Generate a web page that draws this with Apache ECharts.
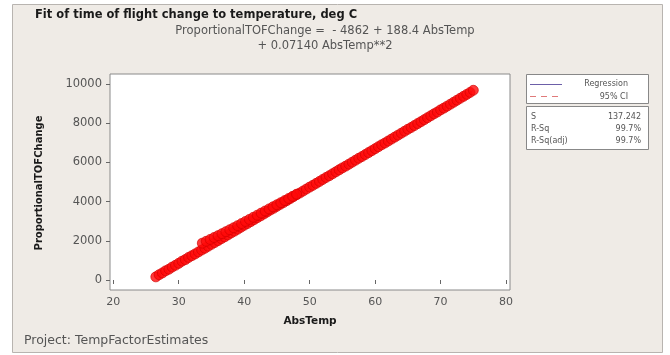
<!DOCTYPE html>
<html><head><meta charset="utf-8">
<script src="https://cdn.jsdelivr.net/npm/echarts@6/dist/echarts.min.js"></script>
<style>html,body{margin:0;padding:0;background:#fff}#c{width:670px;height:355px}</style>
</head><body><div id="c"></div>
<script>
const absTemp = [26.5,27,27.5,28,28.5,29,29.5,30,30.5,31,31.5,32,32.5,33,33.5,34,34.5,35,35.5,36,36.5,37,37.5,38,38.5,39,39.5,40,40.5,41,41.5,42,42.5,43,43.5,44,44.5,45,45.5,46,46.5,47,47.5,48,48.5,49,49.5,50,50.5,51,51.5,52,52.5,53,53.5,54,54.5,55,55.5,56,56.5,57,57.5,58,58.5,59,59.5,60,60.5,61,61.5,62,62.5,63,63.5,64,64.5,65,65.5,66,66.5,67,67.5,68,68.5,69,69.5,70,70.5,71,71.5,72,72.5,73,73.5,74,74.5,75];
const tofChange = [160,270,360,470,550,660,750,850,960,1040,1150,1240,1330,1430,1530,1620,1720,1820,1910,2010,2110,2200,2300,2400,2490,2590,2690,2790,2880,2980,3080,3180,3270,3370,3470,3570,3660,3760,3860,3950,4050,4150,4250,4350,4440,4540,4640,4740,4830,4930,5030,5130,5230,5320,5420,5520,5620,5720,5810,5910,6010,6110,6210,6300,6400,6500,6600,6700,6800,6900,6990,7090,7190,7290,7390,7490,7590,7690,7780,7880,7980,8080,8180,8280,8380,8480,8570,8680,8770,8870,8970,9070,9170,9270,9370,9470,9570,9680];
// second, slightly higher run of points starting near 33.6
const absTemp2 = [33.6,34.2,34.8,35.4,36,36.6,37.2,37.8,38.4,39,39.6,40.2,40.8,41.4,42,42.6,43.2,43.8,44.4,45,45.6,46.2,46.8,47.4,48];
const tofChange2 = [1880,1975,2070,2167,2263,2364,2466,2567,2668,2774,2880,2987,3093,3200,3307,3413,3520,3627,3734,3841,3947,4054,4161,4269,4376];
// fitted regression line: -4862 + 188.4 AbsTemp + 0.07140 AbsTemp**2 (points read along the fit)
const fitX = [26.5,35,45,55,65,75];
const fitY = [180,1820,3760,5720,7690,9670];
const xTicks = [20,30,40,50,60,70,80];
const yTicks = [0,2000,4000,6000,8000,10000];

const chart = echarts.init(document.getElementById('c'));
const font = '"DejaVu Sans", Verdana, sans-serif';
const small = '8px ' + font;
chart.setOption({
  backgroundColor: '#ffffff',
  animation: false,
  title: [
    {text: 'Fit of time of flight change to temperature, deg C', left: 35, top: 9, padding: 0,
     textStyle: {fontFamily: font, fontSize: 11.5, fontWeight: 'bold', color: '#1a1a1a'}},
    {text: 'ProportionalTOFChange =  - 4862 + 188.4 AbsTemp', left: 325, top: 25, padding: 0, textAlign: 'center',
     textStyle: {fontFamily: font, fontSize: 11.5, fontWeight: 'normal', color: '#555'}},
    {text: '+ 0.07140 AbsTemp**2', left: 325, top: 40, padding: 0, textAlign: 'center',
     textStyle: {fontFamily: font, fontSize: 11.5, fontWeight: 'normal', color: '#555'}}
  ],
  graphic: [
    {type: 'rect', z: -10, shape: {x: 12.5, y: 4.5, width: 650, height: 348},
     style: {fill: '#efebe6', stroke: '#b8b4b0', lineWidth: 1}},
    {type: 'text', x: 39, y: 183, rotation: Math.PI/2, z: 10,
     style: {text: 'ProportionalTOFChange', font: 'bold 10px ' + font, fill: '#1a1a1a', align: 'center', verticalAlign: 'middle'}},
    {type: 'text', x: 310, y: 321,
     style: {text: 'AbsTemp', font: 'bold 10.5px ' + font, fill: '#1a1a1a', align: 'center', verticalAlign: 'middle'}},
    {type: 'text', x: 24, y: 341,
     style: {text: 'Project: TempFactorEstimates', font: '12.5px ' + font, fill: '#555', align: 'left', verticalAlign: 'middle'}},
    // legend box
    {type: 'rect', shape: {x: 526.5, y: 74.5, width: 122, height: 29}, style: {fill: '#fff', stroke: '#888', lineWidth: 1}},
    {type: 'line', shape: {x1: 530, y1: 84.5, x2: 562, y2: 84.5}, style: {stroke: '#6c5fa8', lineWidth: 1}},
    {type: 'line', shape: {x1: 530, y1: 96.5, x2: 562, y2: 96.5}, style: {stroke: '#e07a7a', lineWidth: 1, lineDash: [6, 5]}},
    {type: 'text', x: 628, y: 84, style: {text: 'Regression', font: small, fill: '#555', align: 'right', verticalAlign: 'middle'}},
    {type: 'text', x: 628, y: 97, style: {text: '95% CI', font: small, fill: '#555', align: 'right', verticalAlign: 'middle'}},
    {type: 'rect', shape: {x: 526.5, y: 106.5, width: 122, height: 43}, style: {fill: '#fff', stroke: '#888', lineWidth: 1}},
    {type: 'text', x: 531, y: 117, style: {text: 'S', font: small, fill: '#555', align: 'left', verticalAlign: 'middle'}},
    {type: 'text', x: 531, y: 129, style: {text: 'R-Sq', font: small, fill: '#555', align: 'left', verticalAlign: 'middle'}},
    {type: 'text', x: 531, y: 141, style: {text: 'R-Sq(adj)', font: small, fill: '#555', align: 'left', verticalAlign: 'middle'}},
    {type: 'text', x: 641, y: 117, style: {text: '137.242', font: small, fill: '#555', align: 'right', verticalAlign: 'middle'}},
    {type: 'text', x: 641, y: 129, style: {text: '99.7%', font: small, fill: '#555', align: 'right', verticalAlign: 'middle'}},
    {type: 'text', x: 641, y: 141, style: {text: '99.7%', font: small, fill: '#555', align: 'right', verticalAlign: 'middle'}}
  ],
  grid: {left: 110, top: 74, width: 400, height: 216, show: true, borderColor: '#8a8a8a', borderWidth: 1, backgroundColor: '#fff'},
  xAxis: {
    type: 'value', min: 19.5, max: 80.6,
    splitLine: {show: false}, axisLine: {show: false},
    axisTick: {show: true, length: 4, inside: false, customValues: xTicks, lineStyle: {color: '#666'}},
    axisLabel: {customValues: xTicks, color: '#555', fontFamily: font, fontSize: 11, margin: 7}
  },
  yAxis: {
    type: 'value', min: -510, max: 10510,
    splitLine: {show: false}, axisLine: {show: false},
    axisTick: {show: true, length: 4, inside: false, customValues: yTicks, lineStyle: {color: '#666'}},
    axisLabel: {customValues: yTicks, formatter: v => String(v), color: '#555', fontFamily: font, fontSize: 11.5, margin: 8}
  },
  series: [
    {type: 'line', name: 'Regression', data: fitX.map((x, i) => [x, fitY[i]]), smooth: true,
     showSymbol: false, lineStyle: {color: '#6c5fa8', width: 1}, z: 1},
    {type: 'scatter', name: 'Data', data: absTemp.map((x, i) => [x, tofChange[i]]),
     symbolSize: 10, itemStyle: {color: '#ff0a0a', borderColor: '#d00000', borderWidth: 0.8}, z: 2},
    {type: 'scatter', name: 'Data2', data: absTemp2.map((x, i) => [x, tofChange2[i]]),
     symbolSize: 10, itemStyle: {color: '#ff0a0a', borderColor: '#d00000', borderWidth: 0.8}, z: 2}
  ]
});
</script></body></html>
